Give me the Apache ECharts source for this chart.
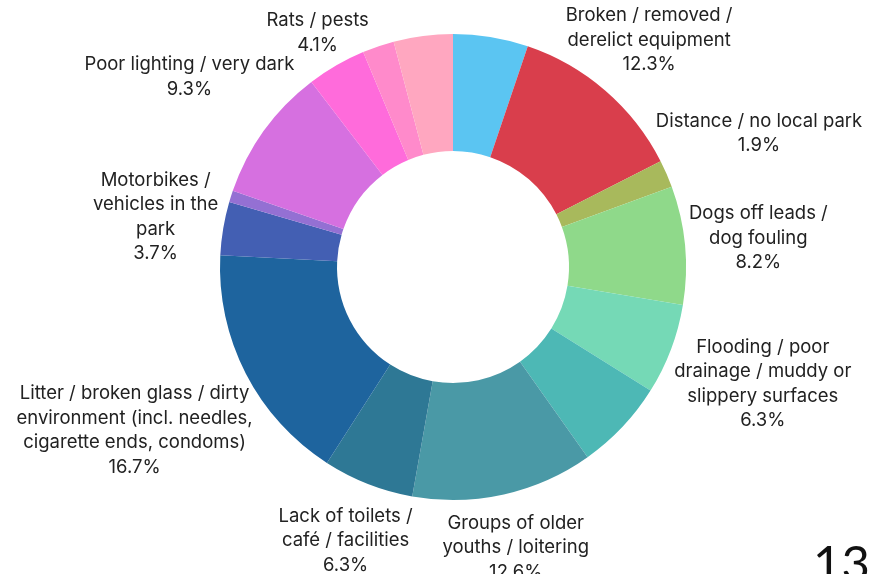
<!DOCTYPE html>
<html>
<head>
<meta charset="utf-8">
<script src="https://cdn.jsdelivr.net/npm/echarts@6/dist/echarts.min.js"></script>
<style>
  html, body { margin: 0; padding: 0; background: #fff; }
  #chart { width: 874px; height: 574px; }
</style>
</head>
<body>
<div id="chart"></div>
<script>
// slices clockwise from 12 o'clock; the "Other" ones carry no label in the picture
const categories = [
  'Other A',
  'Broken / removed /\nderelict equipment',
  'Distance / no local park',
  'Dogs off leads /\ndog fouling',
  'Flooding / poor\ndrainage / muddy or\nslippery surfaces',
  'Other B',
  'Groups of older\nyouths / loitering',
  'Lack of toilets /\ncafé / facilities',
  'Litter / broken glass / dirty\nenvironment (incl. needles,\ncigarette ends, condoms)',
  'Motorbikes /\nvehicles in the\npark',
  'Other C',
  'Poor lighting / very dark',
  'Rats / pests',
  'Other D',
  'Other E'
]
const values = [5.2, 12.3, 1.9, 8.2, 6.3, 6.3, 12.6, 6.3, 16.7, 3.7, 0.8, 9.3, 4.1, 2.2, 4.1]
const showLabel = [false, true, true, true, true, false, true, true, true, true, false, true, true, false, false]
const colors = [
  '#5bc5f2', '#d93e4c', '#a8b95c', '#8fd98a', '#75d9b6',
  '#4db8b5', '#4a99a6', '#2e7895', '#1e649e', '#435fb3',
  '#9470d3', '#d670e0', '#ff6bdb', '#ff8acb', '#ffa7c0'
]

const CX = 453
const CY = 267
const R_IN = 116
const R_OUT = 233
const GAP = 3

// mid angle of each slice, clockwise from top (radians)
const total = values.reduce((a, b) => a + b, 0)
const midAngles = []
let acc = 0
values.forEach(v => {
  midAngles.push((acc + v / 2) / total * Math.PI * 2)
  acc += v
})

const chart = echarts.init(document.getElementById('chart'))

const option = {
  animation: false,
  color: colors,
  series: [
    {
      type: 'pie',
      center: [CX, CY],
      radius: [R_IN, R_OUT],
      startAngle: 90,
      clockwise: true,
      avoidLabelOverlap: false,
      itemStyle: { borderWidth: 0 },
      label: {
        show: true,
        position: 'outside',
        fontFamily: 'Inter',
        fontSize: 18.5,
        lineHeight: 24.5,
        color: '#222',
        align: 'center',
        formatter: p => p.name + '\n' + p.value.toFixed(1) + '%'
      },
      labelLine: { show: false },
      emphasis: { disabled: true },
      labelLayout: function (params) {
        const t = midAngles[params.dataIndex]
        const a = params.labelRect.width / 2
        const b = params.labelRect.height / 2
        const s = Math.abs(Math.sin(t))
        const c = Math.abs(Math.cos(t))
        // push the label box out along the slice direction until it clears the ring
        // (looser fit above the ring, box fit below it)
        const support = a * s + b * c
        const ellipse = Math.sqrt(a * a * s * s + b * b * c * c)
        const k = (1 - Math.cos(t)) / 2
        const d = R_OUT + GAP + support * k + ellipse * (1 - k)
        return {
          x: CX + d * Math.sin(t),
          y: CY - d * Math.cos(t),
          align: 'center',
          verticalAlign: 'middle'
        }
      },
      data: categories.map((name, i) => ({
        name: name,
        value: values[i],
        label: { show: showLabel[i] }
      }))
    }
  ],
  graphic: [
    {
      type: 'text',
      left: 813,
      top: 541,
      style: {
        text: '13',
        fontFamily: 'Lato',
        fontSize: 49,
        fill: '#111'
      }
    }
  ]
}

chart.setOption(option)
</script>
</body>
</html>
